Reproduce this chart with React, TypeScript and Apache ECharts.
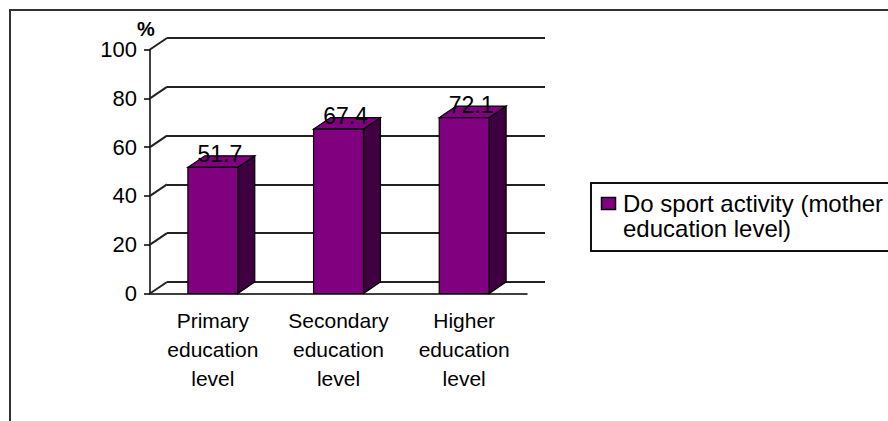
import React, { useEffect, useRef } from "react";
import * as echarts from "echarts";

const categories = [
  "Primary education level",
  "Secondary education level",
  "Higher education level",
];
const seriesName = "Do sport activity (mother education level)";
const values = [51.7, 67.4, 72.1];
const yTicks = [0, 20, 40, 60, 80, 100];
const yUnit = "%";

const DX = 17;
const DY = -11.5;
const FONT = "'Liberation Sans', Arial, sans-serif";
const FRONT = "#800080";
const SIDE = "#3f003f";

export default function App() {
  const ref = useRef<HTMLDivElement>(null);

  useEffect(() => {
    const chart = echarts.init(ref.current as HTMLDivElement, null, {
      renderer: "svg",
    });

    const option: any = {
      animation: false,
      backgroundColor: "#ffffff",
      grid: [
        { left: 150, right: 361, top: 49.5, bottom: 127.5 },
        { left: 167, right: 343, top: 38, bottom: 139 },
      ],
      xAxis: [
        {
          type: "category",
          gridIndex: 0,
          data: categories,
          axisLine: { lineStyle: { color: "#000", width: 1.5 } },
          axisTick: { length: 6, lineStyle: { color: "#000", width: 1.5 } },
          axisLabel: {
            color: "#000",
            fontFamily: FONT,
            fontSize: 21,
            lineHeight: 29,
            margin: 12,
            interval: 0,
            formatter: (s: string) => s.split(" ").join("\n"),
          },
        },
        {
          type: "category",
          gridIndex: 1,
          data: categories,
          axisLine: { show: false },
          axisTick: { show: false },
          axisLabel: { show: false },
        },
      ],
      yAxis: [
        {
          type: "value",
          gridIndex: 0,
          min: 0,
          max: 100,
          interval: 20,
          name: yUnit,
          nameLocation: "end",
          nameGap: 10,
          nameTextStyle: {
            color: "#000",
            fontFamily: FONT,
            fontSize: 20,
            fontWeight: "bold",
            align: "center",
            padding: [0, 8, 0, 0],
          },
          axisLine: { show: true, lineStyle: { color: "#000", width: 1.5 } },
          axisTick: { show: true, length: 6, lineStyle: { color: "#000", width: 1.5 } },
          splitLine: { show: false },
          axisLabel: {
            color: "#000",
            fontFamily: FONT,
            fontSize: 22,
            margin: 13,
          },
        },
        {
          type: "value",
          gridIndex: 1,
          min: 0,
          max: 100,
          interval: 20,
          axisLine: { show: false },
          axisTick: { show: false },
          axisLabel: { show: false },
          splitLine: { show: true, lineStyle: { color: "#222", width: 2 } },
        },
      ],
      graphic: [
        {
          type: "rect",
          shape: { x: 10, y: 10, width: 900, height: 430 },
          style: { fill: "none", stroke: "#333", lineWidth: 2 },
          silent: true,
        },
        {
          type: "group",
          silent: true,
          children: [
            {
              type: "rect",
              shape: { x: 591, y: 183, width: 320, height: 68 },
              style: { fill: "none", stroke: "#111", lineWidth: 2 },
            },
            {
              type: "rect",
              shape: { x: 601.5, y: 197.5, width: 14, height: 12 },
              style: { fill: FRONT, stroke: "#000", lineWidth: 1.5 },
            },
            {
              type: "text",
              x: 623,
              y: 190.5,
              style: {
                text: seriesName.replace(" education", "\neducation"),
                fill: "#000",
                fontFamily: FONT,
                fontSize: 24,
                lineHeight: 25,
                align: "left",
                verticalAlign: "top",
              },
            },
          ],
        },
      ],
      series: [
        {
          type: "custom",
          name: "wall-edges",
          xAxisIndex: 0,
          yAxisIndex: 0,
          clip: false,
          silent: true,
          data: yTicks.map((v) => [0, v]),
          renderItem: (params: any, api: any) => {
            const cs = params.coordSys;
            const y = api.coord([0, api.value(1)])[1];
            return {
              type: "line",
              shape: { x1: cs.x, y1: y, x2: cs.x + DX, y2: y + DY },
              style: { stroke: "#222", lineWidth: 2 },
            };
          },
        },
        {
          type: "custom",
          name: seriesName,
          xAxisIndex: 0,
          yAxisIndex: 0,
          clip: false,
          itemStyle: { color: FRONT },
          data: values.map((v, i) => [i, v]),
          renderItem: (params: any, api: any) => {
            const i = api.value(0);
            const v = api.value(1);
            const top = api.coord([i, v]);
            const base = api.coord([i, 0]);
            const bw = api.size([1, 0])[0] * 0.397;
            const x0 = top[0] - bw / 2;
            const x1 = top[0] + bw / 2;
            const yT = top[1];
            const yB = base[1];
            const edge = { stroke: "#000", lineWidth: 1.2 };
            return {
              type: "group",
              children: [
                {
                  type: "polygon",
                  shape: {
                    points: [
                      [x1, yT],
                      [x1 + DX, yT + DY],
                      [x1 + DX, yB + DY],
                      [x1, yB],
                    ],
                  },
                  style: { fill: SIDE, ...edge },
                },
                {
                  type: "polygon",
                  shape: {
                    points: [
                      [x0, yT],
                      [x1, yT],
                      [x1 + DX, yT + DY],
                      [x0 + DX, yT + DY],
                    ],
                  },
                  style: { fill: FRONT, ...edge },
                },
                {
                  type: "rect",
                  shape: { x: x0, y: yT, width: bw, height: yB - yT },
                  style: { fill: FRONT, ...edge },
                },
                {
                  type: "text",
                  x: top[0] + 7,
                  y: yT - 13,
                  style: {
                    text: String(v),
                    fill: "#000",
                    font: `23px ${FONT}`,
                    align: "center",
                    verticalAlign: "middle",
                  },
                },
              ],
            };
          },
        },
      ],
    };

    chart.setOption(option);
    return () => chart.dispose();
  }, []);

  return (
    <div
      ref={ref}
      style={{ position: "absolute", left: 0, top: 0, width: 888, height: 421 }}
    />
  );
}
